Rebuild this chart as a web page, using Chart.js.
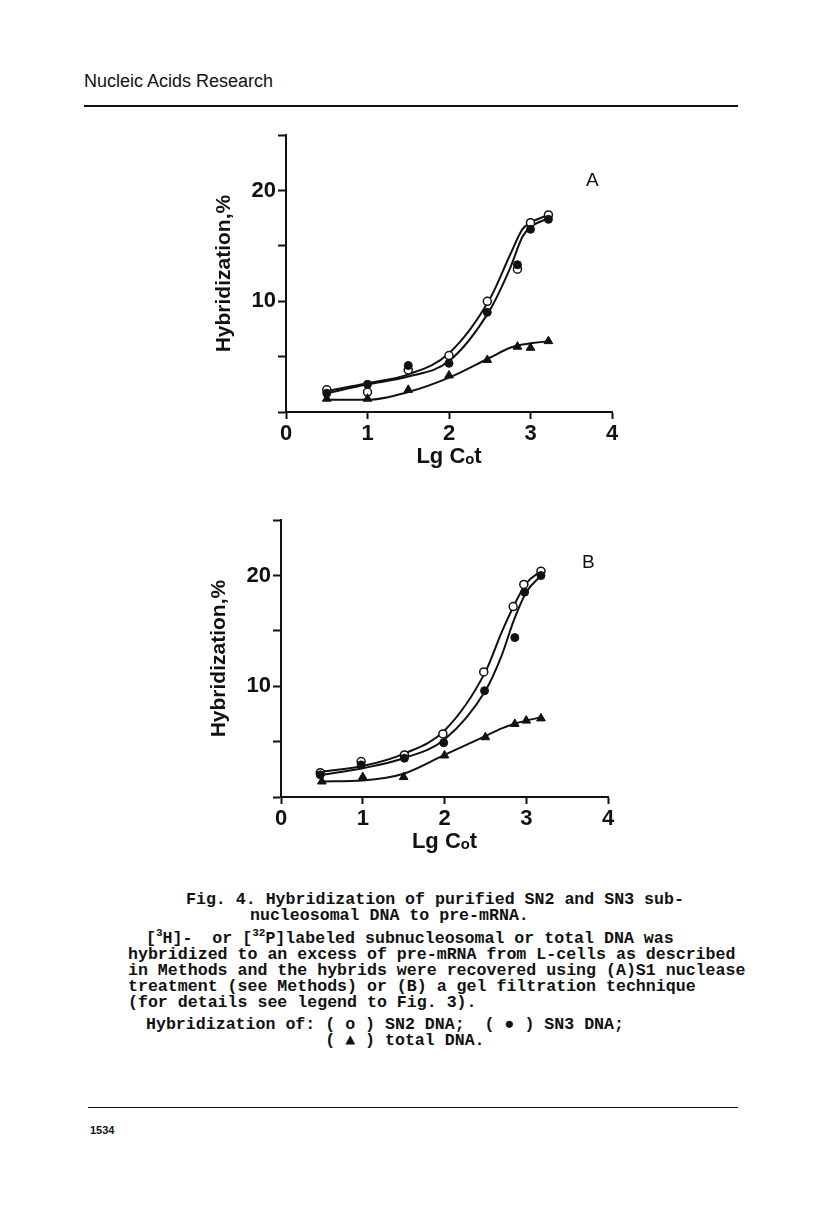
<!DOCTYPE html>
<html>
<head>
<meta charset="utf-8">
<script src="https://cdn.jsdelivr.net/npm/chart.js@4"></script>
<style>
  body { margin: 0; background: #fff; }
  #page { position: relative; width: 816px; height: 1228px; background: #fff; color: #111; }
  .abs { position: absolute; }
  .sans { font-family: "Liberation Sans", Arial, sans-serif; }
  .cap { font-family: "Liberation Mono", "DejaVu Sans Mono", monospace; font-size: 16.6px; white-space: pre; font-weight: bold; line-height: 16px; }
  .cap sup { font-size: 11px; line-height: 0; }
</style>
</head>
<body>
<div id="page">
  <div class="abs sans" style="left:84px; top:71px; font-size:18px;">Nucleic Acids Research</div>
  <div class="abs" style="left:84px; top:105px; width:654px; height:2px; background:#111;"></div>

  <canvas id="chartA" class="abs" style="left:212px; top:120px;" width="418" height="350"></canvas>
  <div class="abs sans" style="left:586px; top:169px; font-size:19px;">A</div>

  <canvas id="chartB" class="abs" style="left:207px; top:505px;" width="419" height="350"></canvas>
  <div class="abs sans" style="left:582px; top:551px; font-size:19px;">B</div>

  <div class="abs cap" style="left:186px; top:892px;">Fig. 4. Hybridization of purified SN2 and SN3 sub-</div>
  <div class="abs cap" style="left:250px; top:908px;">nucleosomal DNA to pre-mRNA.</div>
  <div class="abs cap" style="left:146px; top:931px;">[<sup>3</sup>H]-  or [<sup>32</sup>P]labeled subnucleosomal or total DNA was</div>
  <div class="abs cap" style="left:128px; top:947px;">hybridized to an excess of pre-mRNA from L-cells as described
in Methods and the hybrids were recovered using (A)S1 nuclease
treatment (see Methods) or (B) a gel filtration technique
(for details see legend to Fig. 3).</div>
  <div class="abs cap" style="left:146px; top:1017px;">Hybridization of: ( o ) SN2 DNA;  ( ● ) SN3 DNA;
                  ( ▲ ) total DNA.</div>

  <div class="abs" style="left:88px; top:1107px; width:650px; height:1px; background:#111;"></div>
  <div class="abs sans" style="left:90px; top:1124px; font-size:11px; font-weight:bold;">1534</div>
</div>

<script>
// Panel A - S1 nuclease
const ptsA_x = [0.5, 1, 1.5, 2, 2.47, 2.84, 3, 3.22];
const sn2A = [2.0, 1.8, 3.8, 5.1, 10.0, 12.9, 17.1, 17.8];
const sn3A = [1.7, 2.5, 4.2, 4.4, 9.0, 13.3, 16.5, 17.4];
const totA = [1.2, 1.2, 2.0, 3.3, 4.7, 5.9, 5.8, 6.4];
// fitted curves in panel A
const curveA_x = [0.5, 1, 1.5, 2, 2.5, 2.75, 2.9, 3.0, 3.22];
const sn2A_curve = [1.9, 2.6, 3.4, 5.3, 10.2, 14.2, 16.5, 17.1, 17.8];
const sn3A_curve = [1.7, 2.5, 3.2, 4.6, 9.2, 13.0, 15.8, 16.7, 17.5];
const totA_curve = [1.1, 1.1, 1.8, 3.1, 4.9, 5.8, 6.1, 6.2, 6.4];

// Panel B - gel filtration
const sn2B_x = [0.48, 0.98, 1.51, 1.98, 2.48, 2.84, 2.97, 3.18];
const sn2B = [2.2, 3.2, 3.8, 5.7, 11.3, 17.2, 19.2, 20.4];
const sn3B_x = [0.48, 0.98, 1.51, 1.99, 2.49, 2.86, 2.98, 3.18];
const sn3B = [2.0, 2.9, 3.5, 4.9, 9.6, 14.4, 18.5, 20.0];
const totB_x = [0.5, 1.0, 1.5, 2.0, 2.5, 2.86, 3.0, 3.18];
const totB = [1.4, 1.8, 1.8, 3.75, 5.4, 6.6, 6.9, 7.1];
const curveB_x = [0.5, 1, 1.5, 2, 2.5, 2.7, 2.85, 3.0, 3.18];
const sn2B_curve = [2.3, 2.8, 3.9, 6.0, 11.3, 14.9, 17.3, 19.3, 20.4];
const sn3B_curve = [2.0, 2.6, 3.5, 5.2, 9.6, 12.8, 16.0, 18.5, 20.0];
const totB_curve = [1.4, 1.5, 2.1, 3.8, 5.5, 6.2, 6.6, 6.9, 7.2];

const xTicks = [0, 1, 2, 3, 4];
const yLabelled = [10, 20];

function pairs(xs, ys) {
    return xs.map((x, i) => ({ x: x, y: ys[i] }));
}

function curve(xs, ys) {
    return {
        data: pairs(xs, ys),
        showLine: true,
        borderColor: '#111',
        borderWidth: 2,
        pointRadius: 0,
        cubicInterpolationMode: 'monotone',
        order: 2
    };
}

function makeChart(id, c1, c2, c3, p1, p2, p3) {
    const ctx = document.getElementById(id).getContext('2d');
    return new Chart(ctx, {
        type: 'scatter',
        data: {
            datasets: [
                curve(c1[0], c1[1]),
                curve(c2[0], c2[1]),
                curve(c3[0], c3[1]),
                { data: pairs(p1[0], p1[1]), pointStyle: 'circle', pointRadius: 4, borderWidth: 1.5,
                  borderColor: '#111', backgroundColor: '#fff', order: 1 },
                { data: pairs(p2[0], p2[1]), pointStyle: 'circle', pointRadius: 4, borderWidth: 1,
                  borderColor: '#111', backgroundColor: '#111', order: 0 },
                { data: pairs(p3[0], p3[1]), pointStyle: 'triangle', pointRadius: 5, borderWidth: 1,
                  borderColor: '#111', backgroundColor: '#111', order: 0 }
            ]
        },
        options: {
            responsive: false,
            animation: false,
            layout: { padding: { top: 13, right: 18, left: 0, bottom: 0 } },
            plugins: { legend: { display: false }, tooltip: { enabled: false } },
            scales: {
                x: {
                    type: 'linear', min: 0, max: 4,
                    afterBuildTicks: (s) => { s.ticks = xTicks.map(v => ({ value: v })); },
                    afterFit: (s) => { s.height = 58; },
                    border: { color: '#111', width: 2 },
                    grid: { drawOnChartArea: false, tickLength: 7, tickWidth: 2, tickColor: '#111' },
                    ticks: { color: '#111', padding: 2, font: { family: 'Liberation Sans', size: 22, weight: 'bold' } },
                    title: {
                        display: true, text: 'Lg Cₒt', color: '#111', padding: { top: 0, bottom: 0 },
                        font: { family: 'Liberation Sans', size: 22, weight: 'bold' }
                    }
                },
                y: {
                    min: 0, max: 25,
                    ticks: {
                        stepSize: 5, color: '#111', padding: 2,
                        font: { family: 'Liberation Sans', size: 22, weight: 'bold' },
                        callback: (v) => yLabelled.includes(v) ? String(v) : ''
                    },
                    afterFit: (s) => { s.width = 74; },
                    border: { color: '#111', width: 2 },
                    grid: { drawOnChartArea: false, tickLength: 8, tickWidth: 2, tickColor: '#111' },
                    title: {
                        display: true, text: 'Hybridization,%', color: '#111', padding: { top: 0, bottom: 8 },
                        font: { family: 'Liberation Sans', size: 21, weight: 'bold' }
                    }
                }
            }
        }
    });
}

makeChart('chartA',
    [curveA_x, sn2A_curve], [curveA_x, sn3A_curve], [curveA_x, totA_curve],
    [ptsA_x, sn2A], [ptsA_x, sn3A], [ptsA_x, totA]);

makeChart('chartB',
    [curveB_x, sn2B_curve], [curveB_x, sn3B_curve], [curveB_x, totB_curve],
    [sn2B_x, sn2B], [sn3B_x, sn3B], [totB_x, totB]);
</script>
</body>
</html>
